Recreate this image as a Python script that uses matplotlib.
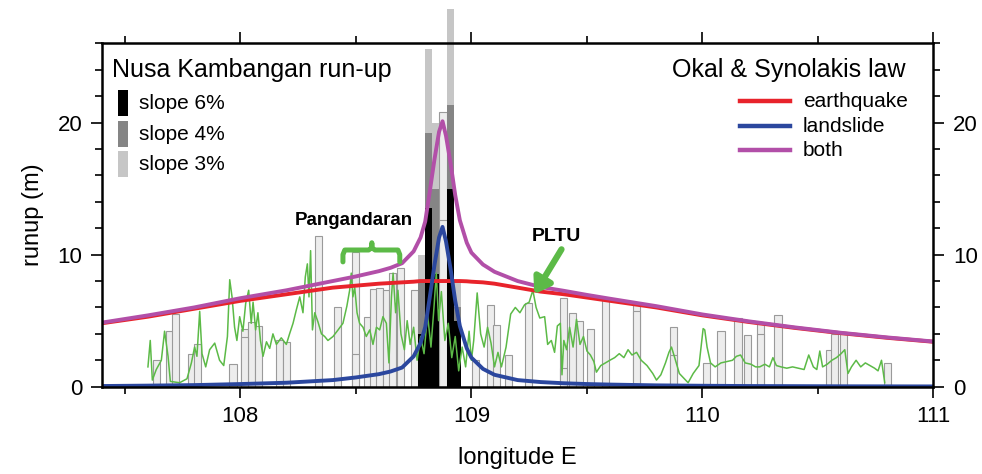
import matplotlib
matplotlib.use('Agg')
import matplotlib.pyplot as plt
from matplotlib.ticker import MultipleLocator
from matplotlib.patches import Rectangle
from matplotlib.lines import Line2D

plt.rcParams['font.family'] = ['Liberation Sans', 'DejaVu Sans']

# ---------------- data ----------------
curve_lon = [107.4, 107.6, 107.8, 108.0, 108.2, 108.4, 108.5, 108.6, 108.65, 108.7,
             108.75, 108.78, 108.8, 108.82, 108.84, 108.86, 108.875, 108.89, 108.91,
             108.93, 108.95, 108.98, 109.0, 109.05, 109.1, 109.2, 109.3, 109.4, 109.5,
             109.6, 109.8, 110.0, 110.2, 110.4, 110.6, 110.8, 111.0]
earthquake = [4.8, 5.3, 5.9, 6.5, 7.0, 7.5, 7.65, 7.8, 7.85, 7.9,
              7.95, 8.0, 8.0, 8.0, 8.0, 8.0, 8.0, 8.0, 8.0,
              8.0, 8.0, 7.98, 7.95, 7.9, 7.8, 7.5, 7.2, 7.0, 6.75,
              6.5, 6.0, 5.4, 4.9, 4.45, 4.05, 3.7, 3.4]
landslide = [0.05, 0.08, 0.12, 0.2, 0.3, 0.5, 0.7, 0.95, 1.15, 1.45,
             2.3, 3.3, 4.5, 6.8, 9.2, 11.3, 12.1, 11.0, 8.9,
             6.5, 4.6, 2.9, 2.2, 1.35, 0.9, 0.5, 0.35, 0.26, 0.2,
             0.16, 0.1, 0.07, 0.05, 0.04, 0.03, 0.025, 0.02]
both = [4.85, 5.4, 6.0, 6.7, 7.3, 8.0, 8.35, 8.75, 9.0, 9.35,
        10.25, 11.3, 12.5, 14.8, 17.2, 19.3, 20.1, 19.0, 16.9,
        14.5, 12.6, 10.9, 10.15, 9.25, 8.7, 8.0, 7.55, 7.26, 6.95,
        6.66, 6.1, 5.47, 4.95, 4.49, 4.08, 3.73, 3.42]

# Nusa Kambangan modelled run-up bars
nk_lon = [108.783, 108.814, 108.845, 108.908, 108.939]
slope3 = [10.0, 25.6, 20.0, 28.6, 8.0]
slope4 = [8.0, 19.2, 15.0, 21.3, 6.0]
slope6 = [4.0, 13.5, 8.5, 15.0, 5.0]

# light outlined run-up bars along the coast
coast_lon = [107.638, 107.693, 107.721, 107.788, 107.813, 107.968, 108.019, 108.047,
             108.078, 108.170, 108.200, 108.339, 108.419, 108.499, 108.549, 108.575,
             108.603, 108.633, 108.659, 108.694, 108.753, 108.877, 109.019, 109.083,
             109.110, 109.162, 109.248, 109.397, 109.436, 109.467, 109.517, 109.581,
             109.716, 109.876, 110.019, 110.080, 110.154, 110.194, 110.253, 110.327,
             110.549, 110.573, 110.612, 110.802]
coast_top = [2.0, 4.2, 5.5, 2.5, 3.2, 1.7, 4.4, 4.9,
             4.6, 3.5, 3.4, 11.4, 6.0, 10.2, 5.3, 7.4,
             7.5, 7.3, 8.6, 9.0, 7.3, 20.8, 2.0, 6.2,
             4.7, 2.4, 6.3, 6.7, 5.6, 5.0, 4.4, 6.6,
             6.2, 4.5, 1.8, 4.2, 5.2, 3.9, 4.8, 5.4,
             2.8, 4.0, 4.0, 1.8]
coast_inner = [0, 0, 0, 0, 0, 0, 3.8, 0,
               0, 0, 0, 0, 0, 2.5, 0, 0,
               0, 0, 0, 0, 0, 12.6, 0, 0,
               0, 0, 0, 1.4, 0, 0, 0, 0,
               5.7, 2.4, 0, 0, 0, 0, 4.0, 0,
               0, 0, 0, 0]

# green coastline-scale trace
green_lon = [107.600, 107.610, 107.619, 107.636, 107.658, 107.672, 107.687, 107.697, 107.737,
             107.769, 107.788, 107.802, 107.812, 107.824, 107.834, 107.850, 107.867, 107.889,
             107.910, 107.928, 107.944, 107.954, 107.964, 107.975, 107.985, 107.997, 108.011,
             108.023, 108.036, 108.047, 108.055, 108.066, 108.076, 108.087, 108.098, 108.113,
             108.127, 108.141, 108.156, 108.177, 108.199, 108.213, 108.228, 108.242, 108.257,
             108.271, 108.281, 108.290, 108.297, 108.304, 108.312, 108.322, 108.336, 108.351,
             108.365, 108.379, 108.401, 108.423, 108.444, 108.461, 108.473, 108.480, 108.487,
             108.495, 108.505, 108.516, 108.531, 108.545, 108.560, 108.574, 108.589, 108.603,
             108.617, 108.632, 108.643, 108.654, 108.661, 108.672, 108.682, 108.695, 108.710,
             108.722, 108.735, 108.750, 108.765, 108.780, 108.795, 108.810, 108.825, 108.838,
             108.848, 108.858, 108.870, 108.885, 108.900, 108.915, 108.930, 108.945, 108.960,
             108.975, 108.990, 109.000, 109.010, 109.025, 109.040, 109.055, 109.070, 109.085,
             109.100, 109.115, 109.130, 109.150, 109.170, 109.190, 109.210, 109.230, 109.250,
             109.266, 109.280, 109.296, 109.317, 109.330, 109.346, 109.360, 109.372, 109.385,
             109.392, 109.400, 109.412, 109.425, 109.440, 109.455, 109.470, 109.485, 109.500,
             109.515, 109.530, 109.541, 109.560, 109.580, 109.599, 109.620, 109.640, 109.660,
             109.678, 109.695, 109.715, 109.735, 109.760, 109.785, 109.801, 109.820, 109.840,
             109.855, 109.866, 109.880, 109.900, 109.938, 109.960, 109.985, 110.003, 110.010,
             110.020, 110.035, 110.055, 110.080, 110.105, 110.130, 110.147, 110.165, 110.185,
             110.210, 110.230, 110.248, 110.270, 110.290, 110.305, 110.320, 110.340, 110.365,
             110.390, 110.415, 110.440, 110.460, 110.480, 110.495, 110.508, 110.520, 110.540,
             110.560, 110.580, 110.600, 110.616, 110.630, 110.645, 110.665, 110.685, 110.705,
             110.725, 110.745, 110.760, 110.775, 110.789]
green_val = [1.5, 3.5, 0.5, 1.3, 2.0, 4.2, 2.3, 0.4, 0.3,
             0.6, 1.8, 3.0, 2.3, 5.7, 2.5, 1.5, 2.8, 3.3,
             2.0, 1.6, 3.8, 8.1, 6.8, 4.5, 3.5, 5.3, 4.2,
             6.3, 7.3, 4.8, 6.4, 4.3, 5.6, 3.5, 2.3, 3.4,
             2.9, 4.0, 3.2, 3.7, 3.2, 4.0, 4.8, 5.8, 6.8,
             5.6, 8.3, 9.3, 6.8, 10.3, 4.3, 5.6, 4.9, 4.0,
             3.8, 3.5, 3.8, 4.3, 4.8, 6.1, 7.3, 8.6, 6.8,
             7.5, 5.6, 4.8, 4.5, 3.8, 4.3, 3.2, 4.5, 4.3,
             5.3, 4.8, 1.8, 6.8, 8.6, 5.6, 7.3, 4.0, 2.8,
             5.0, 3.2, 4.5, 2.0, 3.8, 2.5, 5.5, 3.0, 6.0,
             8.6, 5.0, 7.2, 3.5, 4.8, 2.2, 3.8, 1.2, 3.0,
             1.5, 4.2, 2.0, 3.5, 7.1, 4.0, 3.0, 4.5, 3.3,
             1.5, 2.6, 1.5, 3.0, 5.5, 6.0, 5.6, 6.2, 6.4,
             7.3, 6.0, 5.2, 5.3, 3.2, 3.5, 2.6, 4.6, 4.8,
             0.9, 3.5, 2.8, 4.5, 3.0, 5.1, 3.2, 3.8, 2.7,
             2.4, 1.9, 1.1, 1.6, 1.8, 2.0, 2.2, 2.5, 2.2,
             2.8, 2.4, 2.6, 2.0, 1.6, 1.0, 0.5, 0.9, 1.8,
             2.6, 3.0, 2.2, 1.0, 0.3, 1.0, 1.6, 4.4, 4.3,
             3.0, 1.8, 1.5, 1.8, 1.9, 2.0, 2.3, 2.4, 1.8,
             1.7, 1.5, 1.5, 1.7, 1.5, 2.2, 1.6, 1.5, 1.4,
             1.5, 1.4, 1.3, 2.4, 1.5, 1.3, 2.7, 1.5, 1.7,
             2.0, 2.2, 2.5, 2.8, 1.0, 1.5, 2.0, 1.5, 1.8,
             1.6, 1.4, 1.2, 2.0, 0.3]

xticks = [108, 109, 110, 111]
yticks = [0, 10, 20]

# ---------------- figure ----------------
fig = plt.figure(figsize=(9.82, 4.74), dpi=100)
ax = fig.add_axes([0.1036, 0.1842, 0.847, 0.7244])

GREEN = '#5cba47'
bw = 0.031

# coast bars
ax.bar(coast_lon, coast_top, width=bw, color='#ededed', edgecolor='#9a9a9a',
       linewidth=0.8, zorder=1)
inner_lon = [l for l, h in zip(coast_lon, coast_inner) if h > 0]
inner_h = [h for h in coast_inner if h > 0]
ax.bar(inner_lon, inner_h, width=bw, color='#ededed', edgecolor='#9a9a9a',
       linewidth=0.8, zorder=1.1)

# Nusa Kambangan bars
ax.bar(nk_lon, slope3, width=bw, color='#c6c6c6', linewidth=0, zorder=2, clip_on=False)
ax.bar(nk_lon, slope4, width=bw, color='#858585', linewidth=0, zorder=2.1)
ax.bar(nk_lon, slope6, width=bw, color='#000000', linewidth=0, zorder=2.2)

# green trace
ax.plot(green_lon, green_val, color=GREEN, lw=1.1, zorder=3)

# model curves
ax.plot(curve_lon, earthquake, color='#e8232b', lw=2.8, zorder=4, solid_capstyle='butt')
ax.plot(curve_lon, both, color='#b24fa8', lw=2.8, zorder=5, solid_capstyle='butt')
ax.plot(curve_lon, landslide, color='#2b479e', lw=2.8, zorder=6, solid_capstyle='butt')

ax.set_xlim(107.4, 111.0)
ax.set_ylim(0, 26)
ax.set_xticks(xticks)
ax.set_xticklabels([str(t) for t in xticks])
ax.xaxis.set_minor_locator(MultipleLocator(0.5))
ax.set_yticks(yticks)
ax.yaxis.set_minor_locator(MultipleLocator(2))
ax.tick_params(axis='both', which='both', direction='out', top=True, right=True,
               labelright=True, labelsize=16, width=1.2, color='black')
ax.tick_params(axis='both', which='major', length=8, pad=6)
ax.tick_params(axis='both', which='minor', length=5)
for s in ax.spines.values():
    s.set_linewidth(1.8)
    s.set_zorder(10)

ax.set_xlabel('longitude E', fontsize=17, labelpad=14)
ax.set_ylabel('runup (m)', fontsize=17, labelpad=10)

# left legend
ax.text(0.012, 0.922, 'Nusa Kambangan run-up', transform=ax.transAxes,
        fontsize=18, va='center', ha='left', zorder=11)
sw = [('#000000', 'slope 6%', 0.826), ('#858585', 'slope 4%', 0.735), ('#c6c6c6', 'slope 3%', 0.648)]
for col, lab, yc in sw:
    ax.add_patch(Rectangle((0.0196, yc - 0.038), 0.012, 0.076, transform=ax.transAxes,
                           facecolor=col, edgecolor='none', zorder=11))
    ax.text(0.0448, yc, lab, transform=ax.transAxes, fontsize=15, va='center', ha='left', zorder=11)

# right legend
ax.text(0.966, 0.922, 'Okal & Synolakis law', transform=ax.transAxes,
        fontsize=18, va='center', ha='right', zorder=11)
lg = [('#e8232b', 'earthquake', 0.832), ('#2b479e', 'landslide', 0.759), ('#b24fa8', 'both', 0.689)]
for col, lab, yc in lg:
    ax.add_line(Line2D([0.767, 0.827], [yc, yc], transform=ax.transAxes, color=col, lw=3.2, zorder=11))
    ax.text(0.843, yc, lab, transform=ax.transAxes, fontsize=15, va='center', ha='left', zorder=11)

# annotations
ax.text(108.49, 12.6, 'Pangandaran', fontsize=13.5, fontweight='bold', ha='center', va='center', zorder=11)
bx = [108.444, 108.444, 108.452, 108.555, 108.567, 108.569, 108.571, 108.583, 108.682, 108.690, 108.690]
by = [9.45, 10.0, 10.35, 10.35, 10.5, 10.9, 10.5, 10.35, 10.35, 10.0, 9.45]
ax.plot(bx, by, color=GREEN, lw=3.6, solid_joinstyle='round', solid_capstyle='round', zorder=11)

ax.text(109.37, 11.4, 'PLTU', fontsize=14, fontweight='bold', ha='center', va='center', zorder=11)
ax.annotate('', xy=(109.272, 7.0), xytext=(109.39, 10.4),
            arrowprops=dict(arrowstyle='-|>,head_width=0.6,head_length=0.9', lw=4.5,
                            color=GREEN, shrinkA=0, shrinkB=0), zorder=11)

fig.savefig('out.png', dpi=100)
